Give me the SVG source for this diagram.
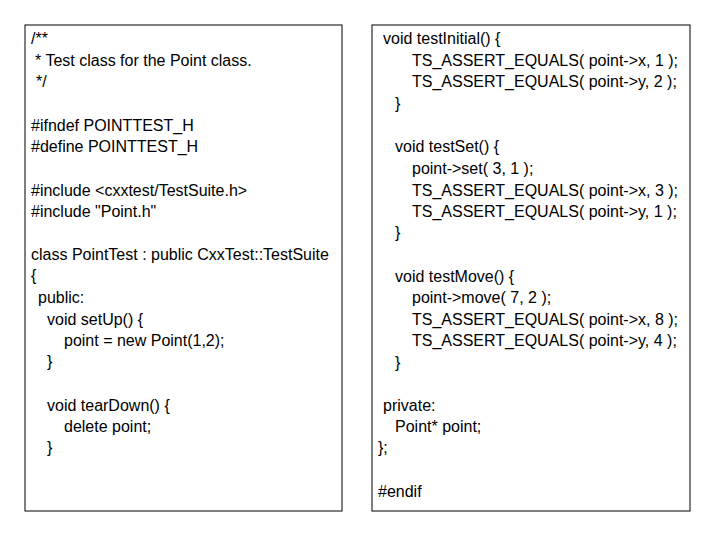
<svg xmlns="http://www.w3.org/2000/svg" width="720" height="540" viewBox="0 0 720 540">
<style>
rect{fill:#fff;stroke:#000;stroke-width:1}
text{font-family:"Liberation Sans",Arial,sans-serif;font-size:16px;fill:#000}
</style>
<rect width="720" height="540" style="stroke:none"/>
<g id="left">
<rect x="25" y="25" width="317" height="486"/>
<text x="31" y="44">/**</text>
<text x="35" y="66">* Test class for the Point class.</text>
<text x="36" y="87">*/</text>
<text x="31" y="131">#ifndef POINTTEST_H</text>
<text x="31" y="152">#define POINTTEST_H</text>
<text x="31" y="196">#include &lt;cxxtest/TestSuite.h&gt;</text>
<text x="31" y="217">#include "Point.h"</text>
<text x="31" y="260">class PointTest : public CxxTest::TestSuite</text>
<text x="31" y="281">{</text>
<text x="38" y="303">public:</text>
<text x="47" y="325">void setUp() {</text>
<text x="64" y="346">point = new Point(1,2);</text>
<text x="47" y="367">}</text>
<text x="47" y="411">void tearDown() {</text>
<text x="64" y="432">delete point;</text>
<text x="47" y="453">}</text>
</g>
<g id="right">
<rect x="372" y="25" width="318" height="486"/>
<text x="383" y="44">void testInitial() {</text>
<text x="412" y="66">TS_ASSERT_EQUALS( point-&gt;x, 1 );</text>
<text x="412" y="87">TS_ASSERT_EQUALS( point-&gt;y, 2 );</text>
<text x="395" y="109">}</text>
<text x="395" y="152">void testSet() {</text>
<text x="412" y="174">point-&gt;set( 3, 1 );</text>
<text x="412" y="196">TS_ASSERT_EQUALS( point-&gt;x, 3 );</text>
<text x="412" y="217">TS_ASSERT_EQUALS( point-&gt;y, 1 );</text>
<text x="395" y="238">}</text>
<text x="395" y="282">void testMove() {</text>
<text x="412" y="303">point-&gt;move( 7, 2 );</text>
<text x="412" y="325">TS_ASSERT_EQUALS( point-&gt;x, 8 );</text>
<text x="412" y="346">TS_ASSERT_EQUALS( point-&gt;y, 4 );</text>
<text x="395" y="368">}</text>
<text x="383" y="411">private:</text>
<text x="395" y="432">Point* point;</text>
<text x="378" y="453">};</text>
<text x="378" y="497">#endif</text>
</g>
</svg>
